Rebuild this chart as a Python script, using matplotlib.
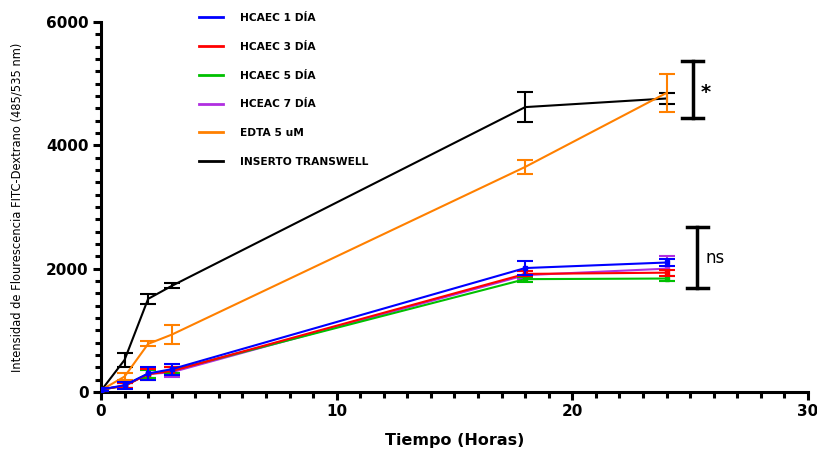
import matplotlib
matplotlib.use("Agg")
import matplotlib.pyplot as plt
from matplotlib.ticker import MultipleLocator
from matplotlib.lines import Line2D

# tiempos (horas)
horas = [0, 1, 2, 3, 18, 24]

# series: media y error
series = ["HCAEC 1 DÍA", "HCAEC 3 DÍA", "HCAEC 5 DÍA", "HCEAC 7 DÍA",
          "EDTA 5 uM", "INSERTO TRANSWELL"]
colores = ["#0000ff", "#ff0000", "#00c000", "#b02ee0", "#ff8000", "#000000"]

hcaec1 = [40, 110, 300, 370, 2010, 2100]
hcaec1_err = [20, 60, 100, 90, 110, 60]
hcaec3 = [40, 100, 290, 340, 1915, 1935]
hcaec3_err = [20, 40, 90, 60, 40, 50]
hcaec5 = [40, 100, 295, 350, 1830, 1840]
hcaec5_err = [20, 40, 60, 50, 40, 40]
hceac7 = [40, 100, 290, 320, 1895, 2000]
hceac7_err = [20, 40, 60, 80, 60, 200]
edta = [30, 250, 780, 930, 3650, 4850]
edta_err = [20, 60, 40, 150, 110, 310]
inserto = [20, 520, 1510, 1720, 4620, 4760]
inserto_err = [20, 120, 80, 40, 240, 95]

medias = [hcaec1, hcaec3, hcaec5, hceac7, edta, inserto]
errores = [hcaec1_err, hcaec3_err, hcaec5_err, hceac7_err, edta_err, inserto_err]
marcadores = ['s', 's', 's', 's', None, None]

fig = plt.figure(figsize=(8.17, 4.5), dpi=100)
ax = fig.add_axes([0.1236, 0.1289, 0.8654, 0.8222])

# dibujar de abajo hacia arriba para que el azul quede encima
orden = [5, 4, 2, 3, 1, 0]
for i in orden:
    ax.errorbar(horas, medias[i], yerr=errores[i], color=colores[i],
                linewidth=1.5, elinewidth=1.5, capsize=5.5, capthick=1.5,
                marker=marcadores[i], markersize=3.5, label=series[i],
                zorder=3 + (5 - i))

# corchetes de significancia
for xb, y0, y1, txt, ty, fs, fw in [(25.1, 4450, 5360, "*", 4850, 14, 'bold'),
                                    (25.3, 1680, 2680, "ns", 2180, 12, 'normal')]:
    ax.plot([xb, xb], [y0, y1], color='black', linewidth=2.5, clip_on=False)
    ax.plot([xb - 0.45, xb + 0.45], [y0, y0], color='black', linewidth=2.5, clip_on=False)
    ax.plot([xb - 0.45, xb + 0.45], [y1, y1], color='black', linewidth=2.5, clip_on=False)
    ax.text(xb + 0.35, ty, txt, fontsize=fs, fontweight=fw, va='center', ha='left')

ax.set_xlim(0, 30)
ax.set_ylim(0, 6000)
ax.xaxis.set_major_locator(MultipleLocator(10))
ax.xaxis.set_minor_locator(MultipleLocator(1))
ax.yaxis.set_major_locator(MultipleLocator(2000))
ax.yaxis.set_minor_locator(MultipleLocator(200))

for s in ['top', 'right']:
    ax.spines[s].set_visible(False)
for s in ['left', 'bottom']:
    ax.spines[s].set_linewidth(2.2)

ax.tick_params(which='major', length=6, width=2.2, labelsize=11, pad=3)
ax.tick_params(which='minor', length=4, width=2.2)
for lbl in ax.get_xticklabels() + ax.get_yticklabels():
    lbl.set_fontweight('bold')

ax.set_xlabel("Tiempo (Horas)", fontsize=11.5, fontweight='bold', labelpad=10)
ax.set_ylabel("Intensidad de Flourescencia FITC-Dextrano (485/535 nm)", fontsize=8.3,
              labelpad=16)

hs = [Line2D([0], [0], color=c, linewidth=2) for c in colores]
leg = ax.legend(hs, series, loc='upper left', bbox_to_anchor=(0.125, 1.05),
                frameon=False, prop={'size': 7.7, 'weight': 'bold'},
                labelspacing=1.75, handlelength=2.2, handletextpad=1.6)

fig.savefig("out.png", dpi=100)
